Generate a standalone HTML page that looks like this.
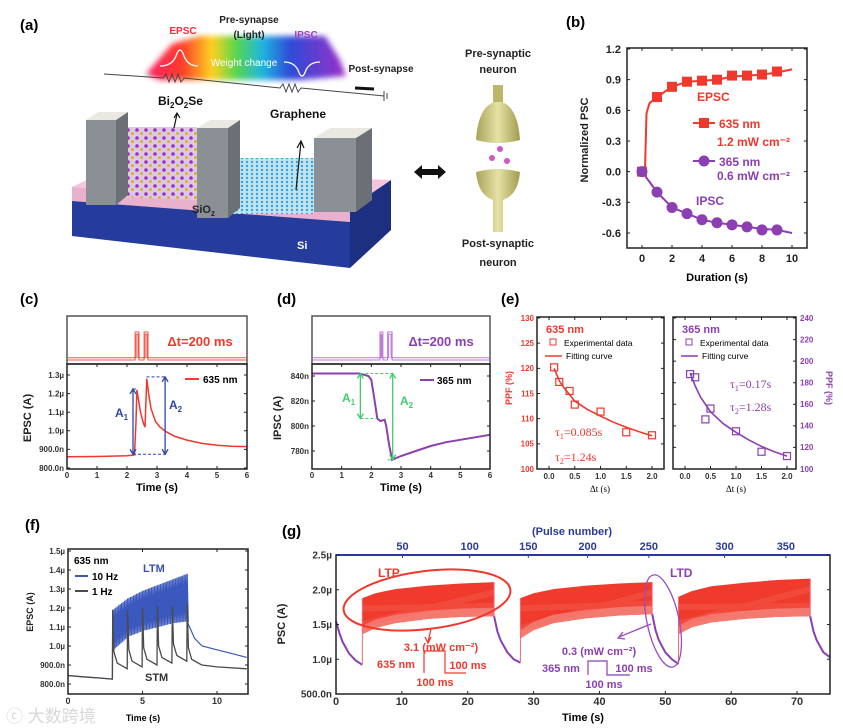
<!DOCTYPE html>
<html><head><meta charset="utf-8"><title>Bi2O2Se synapse figure</title>
<style>
html,body{margin:0;padding:0;background:#fff;}
svg{display:block;font-family:"Liberation Sans","Noto Sans CJK SC",sans-serif;}
.b{font-weight:bold;}
</style></head>
<body>
<svg id="fig" xmlns="http://www.w3.org/2000/svg" width="843" height="728" viewBox="0 0 843 728">
<defs>
  <linearGradient id="rainbow" x1="0" x2="1" y1="0" y2="0">
    <stop offset="0" stop-color="#ff1f6a"/><stop offset="0.18" stop-color="#ff3b2a"/>
    <stop offset="0.33" stop-color="#ffd21f"/><stop offset="0.45" stop-color="#57d64a"/>
    <stop offset="0.58" stop-color="#1fb6e0"/><stop offset="0.72" stop-color="#2e4bd8"/>
    <stop offset="1" stop-color="#9b2fc8"/>
  </linearGradient>
  <filter id="blur"><feGaussianBlur stdDeviation="3"/></filter>
  <linearGradient id="olive" x1="0" x2="1"><stop offset="0" stop-color="#a9a35a"/><stop offset="0.5" stop-color="#e6e2a4"/><stop offset="1" stop-color="#a29b50"/></linearGradient>
  <pattern id="lattice" width="9" height="8" patternUnits="userSpaceOnUse">
    <rect width="9" height="8" fill="#d9c9e6"/>
    <circle cx="2" cy="2" r="1.8" fill="#a12fb8"/><circle cx="6.5" cy="5.5" r="1.5" fill="#e0b21a"/>
  </pattern>
  <pattern id="graphene" width="5" height="4" patternUnits="userSpaceOnUse">
    <rect width="5" height="4" fill="#bfe4f2"/><circle cx="2" cy="2" r="1.2" fill="#3aa3d8"/>
  </pattern>
</defs>

<!-- Panel (a) -->
<g>
  <text x="20" y="30" class="b" font-size="15">(a)</text>
  <polygon points="146,74 172,44 200,36 325,36 340,60 346,76 300,80 160,80" fill="url(#rainbow)" filter="url(#blur)"/>
  <path d="M160,66 Q172,66 176,56 Q180,44 184,56 Q188,66 198,66" fill="none" stroke="#fff" stroke-width="1.3"/>
  <path d="M284,62 Q294,62 298,70 Q302,82 306,70 Q310,62 320,62" fill="none" stroke="#fff" stroke-width="1.3"/>
  <text x="183" y="34" class="b" font-size="10" fill="#ff2b3a" text-anchor="middle">EPSC</text>
  <text x="249" y="23" class="b" font-size="10" fill="#222" text-anchor="middle">Pre-synapse</text>
  <text x="249" y="38" class="b" font-size="10" fill="#222" text-anchor="middle">(Light)</text>
  <text x="306" y="38" class="b" font-size="10" fill="#9b3fc4" text-anchor="middle">IPSC</text>
  <text x="244" y="66" font-size="10" fill="#fff" text-anchor="middle">Weight change</text>
  <text x="381" y="72" class="b" font-size="10" fill="#222" text-anchor="middle">Post-synapse</text>
  <path d="M104,74 L163,78 l3,-4 l3,8 l3,-8 l3,8 l3,-8 l3,8 l3,-4 L280,88 l3,-4 l3,8 l3,-8 l3,8 l3,-8 l3,8 l3,-4 L384,96 M384,91 L384,101 M387,93 L387,99" fill="none" stroke="#444" stroke-width="1"/>
  <path d="M355,88 L374,89" stroke="#111" stroke-width="3"/>
  <polygon points="72,187 108,170 391,180 350,208" fill="#f3c6dd"/>
  <polygon points="72,187 350,208 350,222 72,201" fill="#eab1cf"/>
  <polygon points="72,201 350,222 350,268 72,236" fill="#253c9c"/>
  <polygon points="350,208 391,180 391,230 350,268" fill="#1c2f80"/>
  <polygon points="124,127 197,127 197,200 124,197" fill="url(#lattice)"/>
  <polygon points="233,158 314,158 314,214 233,214" fill="url(#graphene)"/>
  <polygon points="86,120 98,112 128,112 116,120" fill="#e9e9e2"/>
  <rect x="86" y="120" width="30" height="85" fill="#8b9096"/>
  <polygon points="116,120 128,112 128,195 116,205" fill="#6b7076"/>
  <polygon points="197,128 210,120 240,120 228,128" fill="#e9e9e2"/>
  <rect x="197" y="128" width="31" height="90" fill="#8b9096"/>
  <polygon points="228,128 240,120 240,208 228,218" fill="#6b7076"/>
  <polygon points="314,138 330,128 372,128 356,138" fill="#e9e9e2"/>
  <rect x="314" y="138" width="42" height="74" fill="#8b9096"/>
  <polygon points="356,138 372,128 372,200 356,212" fill="#6b7076"/>
  <path d="M174,128 L177,114 M174,118 L177,113 L180,118" stroke="#111" fill="none" stroke-width="1.2"/>
  <path d="M296,190 L301,142 M297,148 L301,141 L304,148" stroke="#111" fill="none" stroke-width="1.2"/>
  <text x="158" y="105" class="b" font-size="12" fill="#111">Bi<tspan font-size="8" dy="3">2</tspan><tspan dy="-3">O</tspan><tspan font-size="8" dy="3">2</tspan><tspan dy="-3">Se</tspan></text>
  <text x="270" y="118" class="b" font-size="12" fill="#111">Graphene</text>
  <text x="192" y="213" class="b" font-size="11" fill="#222">SiO<tspan font-size="7" dy="3">2</tspan></text>
  <text x="297" y="249" class="b" font-size="11" fill="#fff">Si</text>
  <path d="M414,172 L422,165 L422,169 L438,169 L438,165 L446,172 L438,179 L438,175 L422,175 L422,179 Z" fill="#111"/>
  <text x="498" y="57" class="b" font-size="11" fill="#222" text-anchor="middle">Pre-synaptic</text>
  <text x="498" y="73" class="b" font-size="11" fill="#222" text-anchor="middle">neuron</text>
  <rect x="493" y="85" width="10" height="20" fill="#bdb66a"/>
  <path d="M476,140 Q478,108 494,102 L502,102 Q518,108 520,140 Q498,146 476,140Z" fill="url(#olive)"/>
  <circle cx="500" cy="149" r="3" fill="#d455c4"/>
  <circle cx="492" cy="158" r="3" fill="#d455c4"/>
  <circle cx="507" cy="161" r="3" fill="#d455c4"/>
  <path d="M476,172 Q498,166 520,172 Q518,195 503,200 L503,232 L493,232 L493,200 Q478,195 476,172Z" fill="url(#olive)"/>
  <text x="498" y="247" class="b" font-size="11" fill="#222" text-anchor="middle">Post-synaptic</text>
  <text x="498" y="266" class="b" font-size="11" fill="#222" text-anchor="middle">neuron</text>
</g>
<text x="6" y="722" font-size="17" fill="#d8d8d8">ⓒ 大数跨境</text>
</svg>

<script>
// ---------- data ----------
const bTimes=[0,1,2,3,4,5,6,7,8,9];
const bEPSC=[0,0.73,0.83,0.88,0.89,0.90,0.94,0.94,0.95,0.98];
const bIPSC=[0,-0.20,-0.35,-0.41,-0.47,-0.50,-0.52,-0.54,-0.57,-0.57];
const bEPSCfitT=[0,0.2,0.3,0.5,1,2,3,4,5,6,7,8,9,10];
const bEPSCfit=[0,0.02,0.57,0.67,0.73,0.83,0.88,0.89,0.90,0.93,0.94,0.95,0.97,1.0];
const bIPSCfitT=[0,0.5,1,2,3,4,5,6,7,8,9,10];
const bIPSCfit=[0,-0.10,-0.20,-0.35,-0.41,-0.47,-0.50,-0.52,-0.54,-0.56,-0.57,-0.60];
const bYTicks=[1.2,0.9,0.6,0.3,0,-0.3,-0.6];
const bYLabels=["1.2","0.9","0.6","0.3","0.0","-0.3","-0.6"];
const bXTicks=[0,2,4,6,8,10];

const cT=[0,1,2,2.25,2.3,2.33,2.38,2.45,2.55,2.6,2.63,2.66,2.72,2.8,2.95,3.1,3.3,3.6,4,4.5,5,5.5,6];
const cV=[0.860,0.862,0.866,0.870,1.05,1.22,1.17,1.10,1.04,1.02,1.15,1.28,1.20,1.12,1.05,1.02,0.995,0.970,0.950,0.932,0.922,0.917,0.915];
const cYTicks=[0.8,0.9,1.0,1.1,1.2,1.3];
const cYLabels=["800.0n","900.0n","1.0µ","1.1µ","1.2µ","1.3µ"];
const cPulseOn=[2.27,2.57], cPulseOff=[2.4,2.7];

const dT=[0,1,1.6,1.9,2.0,2.1,2.2,2.3,2.45,2.5,2.6,2.7,2.8,3,3.5,4,4.5,5,5.5,6];
const dV=[842,842,842,840,837,822,806,804,805,800,785,773,774,776,780,784,787,789,791,793];
const dYTicks=[780,800,820,840];
const dYLabels=["780n","800n","820n","840n"];
const dPulseOn=[2.29,2.55], dPulseOff=[2.39,2.7];
const xTicks6=[0,1,2,3,4,5,6];

const eDt=[0.1,0.2,0.4,0.5,1.0,1.5,2.0];
const eRed=[120.2,117.3,115.5,112.8,111.4,107.3,106.7];
const ePurple=[188,185,146,156,135,116,112];
const eFitT=[0.1,0.2,0.3,0.5,0.75,1,1.25,1.5,1.75,2];
const eRedFit=[120,117.5,116,113.5,111.8,110.5,109.3,108.3,107.4,106.6];
const ePurpleFit=[189,177,167,153,142,134,127,121,116,112];
const eLYTicks=[100,105,110,115,120,125,130];
const eRYTicks=[100,120,140,160,180,200,220,240];
const eXTicks=[0,0.5,1,1.5,2];
const eXLabels=["0.0","0.5","1.0","1.5","2.0"];

const fBaseT=[0,1,2,2.98], fBaseV=[0.845,0.838,0.832,0.826];
const fEnvT=[3,4,5,6,7,8];
const fUpper=[1.19,1.25,1.29,1.32,1.35,1.38];
const fLower=[0.98,1.05,1.08,1.10,1.12,1.13];
const fDecayT=[8.05,8.5,9,10,11,12], fDecayV=[1.12,1.04,1.0,0.98,0.96,0.94];
const fGrayPeakT=[3,4,5,6,7,8];
const fGrayPeak=[1.19,1.19,1.20,1.21,1.21,1.22];
const fGrayTrough=[0.88,0.89,0.90,0.91,0.92,0.90];
const fGrayTailT=[10,12], fGrayTail=[0.89,0.88];
const fYTicks=[0.8,0.9,1.0,1.1,1.2,1.3,1.4,1.5];
const fYLabels=["800.0n","900.0n","1.0µ","1.1µ","1.2µ","1.3µ","1.4µ","1.5µ"];
const fXTicks=[0,5,10];

const gBandStart=[4,28,52], gBandEnd=[24,48,72];
const gEnvRelT=[0,2,5,10,15,20];
const gTop=[[1.88,1.95,2.01,2.06,2.09,2.11],[1.88,1.95,2.01,2.06,2.09,2.11],[1.90,1.98,2.05,2.10,2.14,2.16]];
const gBottom=[[1.36,1.45,1.52,1.58,1.61,1.62],[1.30,1.42,1.52,1.59,1.63,1.65],[1.36,1.46,1.53,1.58,1.61,1.62]];
const gDecayStart=[0,24,48,72];
const gDecayRelT=[[0,0.5,1,2,3,4],[0,0.5,1,2,3,4],[0,0.5,1,2,3,4],[0,0.5,1,2,3]];
const gDecayV=[[1.55,1.38,1.25,1.08,0.98,0.92],[1.62,1.40,1.27,1.10,1.0,0.95],[1.65,1.42,1.28,1.10,1.0,0.93],[1.62,1.40,1.27,1.10,1.03]];
const gYTicks=[0.5,1.0,1.5,2.0,2.5];
const gYLabels=["500.0n","1.0µ","1.5µ","2.0µ","2.5µ"];
const gXTicks=[0,10,20,30,40,50,60,70];
const gPulseLabels=[50,100,150,200,250,300,350];
const gPulseAtTime=[10.1,20.3,29.2,38.2,47.5,59,68.3];

// ---------- helpers ----------
const NS='http://www.w3.org/2000/svg';
const svg=document.getElementById('fig');
function mk(tag,attrs,parent){const e=document.createElementNS(NS,tag);for(const k in attrs)e.setAttribute(k,attrs[k]);(parent||svg).appendChild(e);return e;}
function txt(x,y,s,attrs,parent){const e=mk('text',Object.assign({x:x,y:y},attrs),parent);e.textContent=s;return e;}
function lin(d0,d1,r0,r1){return v=>r0+(v-d0)/(d1-d0)*(r1-r0);}
function interp(xs,ys,x){if(x<=xs[0])return ys[0];for(let i=1;i<xs.length;i++){if(x<=xs[i]){const f=(x-xs[i-1])/(xs[i]-xs[i-1]);return ys[i-1]+f*(ys[i]-ys[i-1]);}}return ys[ys.length-1];}
function pathFrom(xs,ys,fx,fy){return xs.map((t,i)=>(i?'L':'M')+fx(t).toFixed(1)+','+fy(ys[i]).toFixed(1)).join('');}
function group(name){const g=mk('g',{});return g;}
function box(g,x0,y0,x1,y1,name,color){const r=mk('rect',{x:x0,y:y0,width:x1-x0,height:y1-y0,fill:'none',stroke:color||'#222','stroke-width':1.5},g);return r;}
function yAxis(g,vals,labels,fy,xL,xR,lx,anchor,color,size,prefix){
  vals.forEach((v,i)=>{
    const t=mk('path',{d:`M${xL},${fy(v)}h3M${xR},${fy(v)}h-3`,stroke:'#222','stroke-width':1},g);
    
    
    const l=txt(lx,fy(v)+size*0.35,labels[i],{'font-size':size,'text-anchor':anchor,fill:color,'font-weight':'bold'},g);
    
    
  });
}
function xAxis(g,vals,labels,fx,yB,yT,ly,color,size,prefix){
  vals.forEach((v,i)=>{
    const t=mk('path',{d:`M${fx(v)},${yB}v-3`+(yT!==null?`M${fx(v)},${yT}v3`:''),stroke:'#222','stroke-width':1},g);
    
    
    const l=txt(fx(v),ly,labels[i],{'font-size':size,'text-anchor':'middle',fill:color,'font-weight':'bold'},g);
    
    
  });
}
function rotLabel(g,x,y,s,size,color,name,angle){
  const e=txt(x,y,s,{'font-size':size,'text-anchor':'middle','font-weight':'bold',fill:color,transform:`rotate(${angle||-90} ${x} ${y})`},g);
  
  
  return e;
}
function label(g,x,y,s,attrs,name){const e=txt(x,y,s,attrs,g);return e;}
function line(g,d,attrs,name){const e=mk('path',Object.assign({d:d,fill:'none'},attrs),g);return e;}

const RED='#f0382c', PUR='#8b3fb0', BLUE='#2f48a8', GREEN='#3fce6c';

// ---------- panel b ----------
(function(){
  const g=group('panel-b-chart');
  const fx=lin(0,10,642,792), fy=lin(-0.6,1.2,233,49);
  label(g,566,27,'(b)',{'font-size':15,'font-weight':'bold'},'panel-b-label');
  line(g,pathFrom(bEPSCfitT,bEPSCfit,fx,fy),{stroke:RED,'stroke-width':2},'epsc-fit-line');
  line(g,pathFrom(bIPSCfitT,bIPSCfit,fx,fy),{stroke:PUR,'stroke-width':2},'ipsc-fit-line');
  bTimes.forEach((t,i)=>{
    const s=mk('rect',{x:fx(t)-5,y:fy(bEPSC[i])-5,width:10,height:10,fill:RED},g);
    
    
    const c=mk('circle',{cx:fx(t),cy:fy(bIPSC[i]),r:5.5,fill:PUR},g);
    
    
  });
  box(g,627,48,807,248,'panel-b-plot-frame');
  yAxis(g,bYTicks,bYLabels,fy,627,807,621,'end','#222',11,'panel-b');
  xAxis(g,bXTicks,bXTicks.map(String),fx,248,48,262,'#222',11,'panel-b');
  rotLabel(g,588,140,'Normalized PSC',11,'#222','panel-b-y-axis-title');
  label(g,717,281,'Duration (s)',{'font-size':11,'font-weight':'bold','text-anchor':'middle'},'panel-b-x-axis-title');
  label(g,697,101,'EPSC',{'font-size':12,'font-weight':'bold',fill:RED},'epsc-series-label');
  line(g,'M693,123h22',{stroke:RED,'stroke-width':2},'legend-635-line');
  const lm=mk('rect',{x:699,y:118,width:10,height:10,fill:RED},g);
  
  
  label(g,719,128,'635 nm',{'font-size':12,'font-weight':'bold',fill:RED},'legend-635-text');
  label(g,717,146,'1.2 mW cm⁻²',{'font-size':12,'font-weight':'bold',fill:RED},'legend-635-power');
  line(g,'M693,161h22',{stroke:PUR,'stroke-width':2},'legend-365-line');
  const lc=mk('circle',{cx:704,cy:161,r:5.5,fill:PUR},g);
  
  
  label(g,719,166,'365 nm',{'font-size':12,'font-weight':'bold',fill:PUR},'legend-365-text');
  label(g,717,180,'0.6 mW cm⁻²',{'font-size':12,'font-weight':'bold',fill:PUR},'legend-365-power');
  label(g,696,205,'IPSC',{'font-size':12,'font-weight':'bold',fill:PUR},'ipsc-series-label');
})();

// pulse box helper for c,d
function pulseBox(g,fx,on,off,color,prefix){
  box(g,67+(prefix==='d'?245:0),316,247+(prefix==='d'?243:0),364,prefix+'-pulse-frame','#555');
  [0,2.2].forEach(dy=>{
    let d=`M${fx(0)},${360-dy}`;
    on.forEach((t,i)=>{d+=`L${fx(on[i])+(dy?1:0)},${360-dy}L${fx(on[i])+(dy?1:0)},${332+dy}L${fx(off[i])-(dy?1:0)},${332+dy}L${fx(off[i])-(dy?1:0)},${360-dy}`;});
    d+=`L${fx(6)},${360-dy}`;
    line(g,d,{stroke:color,'stroke-width':1,opacity:0.85},prefix+'-light-pulse-trace');
  });
}

// ---------- panel c ----------
(function(){
  const g=group('panel-c-chart');
  const fx=lin(0,6,67,247), fy=lin(0.8,1.3,468,375);
  label(g,20,304,'(c)',{'font-size':15,'font-weight':'bold'},'panel-c-label');
  pulseBox(g,fx,cPulseOn,cPulseOff,RED,'c');
  label(g,200,346,'Δt=200 ms',{'font-size':13,'font-weight':'bold',fill:RED,'text-anchor':'middle'},'c-interval-label');
  line(g,pathFrom(cT,cV,fx,fy),{stroke:RED,'stroke-width':1.5},'epsc-trace-635');
  const ax1=fx(2.2), ax2=fx(3.27);
  line(g,`M${ax1},${fy(0.874)}L${fx(3.27)},${fy(0.874)}M${ax1},${fy(1.225)}H${fx(2.36)}M${fx(2.65)},${fy(1.29)}H${ax2}`,{stroke:BLUE,'stroke-width':1,'stroke-dasharray':'3,2'},'amplitude-guide-lines');
  line(g,`M${ax1},${fy(0.874)}V${fy(1.225)}M${ax1-3},${fy(0.874)-5}L${ax1},${fy(0.874)}L${ax1+3},${fy(0.874)-5}M${ax1-3},${fy(1.225)+5}L${ax1},${fy(1.225)}L${ax1+3},${fy(1.225)+5}`,{stroke:BLUE,'stroke-width':1.3},'a1-arrow');
  line(g,`M${ax2},${fy(0.874)}V${fy(1.29)}M${ax2-3},${fy(0.874)-5}L${ax2},${fy(0.874)}L${ax2+3},${fy(0.874)-5}M${ax2-3},${fy(1.29)+5}L${ax2},${fy(1.29)}L${ax2+3},${fy(1.29)+5}`,{stroke:BLUE,'stroke-width':1.3},'a2-arrow');
  const a1=label(g,115,417,'A',{'font-size':12,'font-weight':'bold',fill:BLUE},'a1-label');
  const s1=mk('tspan',{'font-size':8,dy:3},a1); s1.textContent='1';
  const a2=label(g,169,409,'A',{'font-size':12,'font-weight':'bold',fill:BLUE},'a2-label');
  const s2=mk('tspan',{'font-size':8,dy:3},a2); s2.textContent='2';
  line(g,'M185,379h14',{stroke:RED,'stroke-width':2},'c-legend-line');
  label(g,203,383,'635 nm',{'font-size':10,'font-weight':'bold'},'c-legend-text');
  box(g,67,364,247,469,'panel-c-plot-frame');
  yAxis(g,cYTicks,cYLabels,fy,67,247,64,'end','#333',8,'panel-c');
  xAxis(g,xTicks6,xTicks6.map(String),fx,469,364,478,'#333',8,'panel-c');
  rotLabel(g,31,418,'EPSC (A)',11,'#222','panel-c-y-axis-title');
  label(g,157,491,'Time (s)',{'font-size':11,'font-weight':'bold','text-anchor':'middle'},'panel-c-x-axis-title');
})();

// ---------- panel d ----------
(function(){
  const g=group('panel-d-chart');
  const fx=lin(0,6,312,490), fy=lin(780,840,451,376);
  label(g,277,304,'(d)',{'font-size':15,'font-weight':'bold'},'panel-d-label');
  pulseBox(g,fx,dPulseOn,dPulseOff,'#b060d0','d');
  label(g,441,346,'Δt=200 ms',{'font-size':13,'font-weight':'bold',fill:PUR,'text-anchor':'middle'},'d-interval-label');
  line(g,pathFrom(dT,dV,fx,fy),{stroke:PUR,'stroke-width':2},'ipsc-trace-365');
  const ax1=fx(1.63), ax2=fx(2.72);
  line(g,`M${ax1},${fy(842)}H${ax2}M${ax1},${fy(806)}H${fx(2.2)}M${fx(2.55)},${fy(773)}H${ax2}`,{stroke:GREEN,'stroke-width':1,'stroke-dasharray':'3,2'},'d-amplitude-guides');
  line(g,`M${ax1},${fy(842)}V${fy(806)}M${ax1-3},${fy(842)+5}L${ax1},${fy(842)}L${ax1+3},${fy(842)+5}M${ax1-3},${fy(806)-5}L${ax1},${fy(806)}L${ax1+3},${fy(806)-5}`,{stroke:GREEN,'stroke-width':1.3},'d-a1-arrow');
  line(g,`M${ax2},${fy(842)}V${fy(773)}M${ax2-3},${fy(842)+5}L${ax2},${fy(842)}L${ax2+3},${fy(842)+5}M${ax2-3},${fy(773)-5}L${ax2},${fy(773)}L${ax2+3},${fy(773)-5}`,{stroke:GREEN,'stroke-width':1.3},'d-a2-arrow');
  const a1=label(g,342,402,'A',{'font-size':12,'font-weight':'bold',fill:GREEN},'d-a1-label');
  const s1=mk('tspan',{'font-size':8,dy:3},a1); s1.textContent='1';
  const a2=label(g,400,405,'A',{'font-size':12,'font-weight':'bold',fill:GREEN},'d-a2-label');
  const s2=mk('tspan',{'font-size':8,dy:3},a2); s2.textContent='2';
  line(g,'M420,380h14',{stroke:PUR,'stroke-width':2},'d-legend-line');
  label(g,437,384,'365 nm',{'font-size':10,'font-weight':'bold'},'d-legend-text');
  box(g,312,364,490,469,'panel-d-plot-frame');
  yAxis(g,dYTicks,dYLabels,fy,312,490,309,'end','#333',8,'panel-d');
  xAxis(g,xTicks6,xTicks6.map(String),fx,469,364,478,'#333',8,'panel-d');
  rotLabel(g,281,418,'IPSC (A)',11,'#222','panel-d-y-axis-title');
  label(g,401,491,'Time (s)',{'font-size':11,'font-weight':'bold','text-anchor':'middle'},'panel-d-x-axis-title');
})();

// ---------- panel e ----------
(function(){
  const g=group('panel-e-chart');
  label(g,501,304,'(e)',{'font-size':15,'font-weight':'bold'},'panel-e-label');
  const fxL=lin(0,2,549,652), fyL=lin(100,130,469,318);
  const fxR=lin(0,2,685,787), fyR=lin(100,240,469,318);
  line(g,pathFrom(eFitT,eRedFit,fxL,fyL),{stroke:RED,'stroke-width':1.6},'ppf-635-fit-curve');
  line(g,pathFrom(eFitT,ePurpleFit,fxR,fyR),{stroke:PUR,'stroke-width':1.6},'ppf-365-fit-curve');
  eDt.forEach((t,i)=>{
    const a=mk('rect',{x:fxL(t)-3.5,y:fyL(eRed[i])-3.5,width:7,height:7,fill:'none',stroke:RED,'stroke-width':1.2},g);
    
    
    const b=mk('rect',{x:fxR(t)-3.5,y:fyR(ePurple[i])-3.5,width:7,height:7,fill:'none',stroke:PUR,'stroke-width':1.2},g);
    
    
  });
  box(g,537,317,664,469,'panel-e-left-frame');
  box(g,673,317,796,469,'panel-e-right-frame');
  yAxis(g,eLYTicks,eLYTicks.map(String),fyL,537,664,534,'end',RED,8,'panel-e-left');
  yAxis(g,eRYTicks,eRYTicks.map(String),fyR,673,796,800,'start',PUR,8,'panel-e-right');
  xAxis(g,eXTicks,eXLabels,fxL,469,317,479,'#333',8,'panel-e-left');
  xAxis(g,eXTicks,eXLabels,fxR,469,317,479,'#333',8,'panel-e-right');
  rotLabel(g,512,388,'PPF (%)',9,RED,'panel-e-left-y-axis-title');
  rotLabel(g,826,388,'PPF (%)',9,PUR,'panel-e-right-y-axis-title',90);
  label(g,600,492,'Δt (s)',{'font-size':9,'font-family':'Liberation Serif, serif','text-anchor':'middle'},'panel-e-left-x-axis-title');
  label(g,736,492,'Δt (s)',{'font-size':9,'font-family':'Liberation Serif, serif','text-anchor':'middle'},'panel-e-right-x-axis-title');
  label(g,546,333,'635 nm',{'font-size':11,'font-weight':'bold',fill:RED},'panel-e-635-title');
  const lq=mk('rect',{x:550,y:339,width:6,height:6,fill:'none',stroke:RED},g);
  
  
  label(g,564,346,'Experimental data',{'font-size':8.5},'e-left-legend-data');
  line(g,'M545,356h17',{stroke:RED,'stroke-width':1.6},'e-left-legend-line');
  label(g,566,359,'Fitting curve',{'font-size':8.5},'e-left-legend-fit');
  label(g,682,333,'365 nm',{'font-size':11,'font-weight':'bold',fill:PUR},'panel-e-365-title');
  const rq=mk('rect',{x:686,y:339,width:6,height:6,fill:'none',stroke:PUR},g);
  
  
  label(g,700,346,'Experimental data',{'font-size':8.5},'e-right-legend-data');
  line(g,'M681,356h17',{stroke:PUR,'stroke-width':1.6},'e-right-legend-line');
  label(g,702,359,'Fitting curve',{'font-size':8.5},'e-right-legend-fit');
  const ser={'font-size':12,'font-family':'Liberation Serif, serif'};
  [[555,436,'0.085s',RED,'tau1-635'],[555,461,'1.24s',RED,'tau2-635'],[730,388,'0.17s',PUR,'tau1-365'],[730,411,'1.28s',PUR,'tau2-365']].forEach((r,i)=>{
    const e=label(g,r[0],r[1],'τ',Object.assign({fill:r[3]},ser),r[4]+'-label');
    const sb=mk('tspan',{'font-size':8,dy:3},e); sb.textContent=(i%2?'2':'1');
    const rest=mk('tspan',{dy:-3},e); rest.textContent='='+r[2];
  });
})();

// ---------- panel f ----------
(function(){
  const g=group('panel-f-chart');
  const fx=lin(0,10,68,217), fy=lin(0.8,1.5,684,551);
  label(g,25,530,'(f)',{'font-size':15,'font-weight':'bold'},'panel-f-label');
  // blue 10 Hz
  let bx=fBaseT.slice(), by=fBaseV.slice();
  for(let k=0;k<=50;k++){const t=3+k*0.1;bx.push(t);by.push(interp(fEnvT,fUpper,t));bx.push(t+0.07);by.push(interp(fEnvT,fLower,t));}
  fDecayT.forEach((t,i)=>{bx.push(t);by.push(fDecayV[i]);});
  // gray 1 Hz
  let gx=fBaseT.slice(), gy=fBaseV.slice();
  fGrayPeakT.forEach((t,i)=>{gx.push(t,t+0.08,t+0.3,t+0.97);gy.push(fGrayPeak[i],fGrayTrough[i]+0.09,fGrayTrough[i]+0.03,fGrayTrough[i]);});
  fGrayTailT.forEach((t,i)=>{gx.push(t);gy.push(fGrayTail[i]);});
  line(g,pathFrom(bx,by,fx,fy),{stroke:'#3a58bd','stroke-width':1.2},'epsc-10hz-trace');
  line(g,pathFrom(gx,gy,fx,fy),{stroke:'#4a4a48','stroke-width':1.3},'epsc-1hz-trace');
  box(g,68,549,248,694,'panel-f-plot-frame');
  yAxis(g,fYTicks,fYLabels,fy,68,248,65,'end','#333',8,'panel-f');
  xAxis(g,fXTicks,fXTicks.map(String),fx,694,549,704,'#333',9,'panel-f');
  rotLabel(g,33,612,'EPSC (A)',9,'#222','panel-f-y-axis-title');
  label(g,143,721,'Time (s)',{'font-size':9,'font-weight':'bold','text-anchor':'middle'},'panel-f-x-axis-title');
  label(g,74,564,'635 nm',{'font-size':10,'font-weight':'bold'},'f-wavelength-label');
  line(g,'M75,576h13',{stroke:'#3a58bd','stroke-width':2},'f-legend-10hz-line');
  label(g,92,580,'10 Hz',{'font-size':10,'font-weight':'bold'},'f-legend-10hz-text');
  line(g,'M75,591h13',{stroke:'#4a4a48','stroke-width':2},'f-legend-1hz-line');
  label(g,92,595,'1 Hz',{'font-size':10,'font-weight':'bold'},'f-legend-1hz-text');
  label(g,143,572,'LTM',{'font-size':11,'font-weight':'bold',fill:'#3a4fb0'},'ltm-label');
  label(g,145,681,'STM',{'font-size':11,'font-weight':'bold',fill:'#333'},'stm-label');
})();

// ---------- panel g ----------
(function(){
  const g=group('panel-g-chart');
  const fx=lin(0,75,336,830), fy=lin(0.5,2.5,694,555);
  label(g,282,536,'(g)',{'font-size':15,'font-weight':'bold'},'panel-g-label');
  gDecayStart.forEach((t0,j)=>{
    const xs=gDecayRelT[j].map(r=>t0+r);
    line(g,pathFrom(xs,gDecayV[j],fx,fy),{stroke:'#8a3fb0','stroke-width':2},'ltd-decay-segment');
  });
  gBandStart.forEach((s,j)=>{
    const e=gBandEnd[j];
    const xsT=gEnvRelT.map(r=>s+r);
    let d=pathFrom(xsT,gTop[j],fx,fy);
    const rev=xsT.slice().reverse(), rb=gBottom[j].slice().reverse();
    rev.forEach((t,i)=>{d+=`L${fx(t).toFixed(1)},${fy(rb[i]).toFixed(1)}`;});
    d+='Z';
    const band=mk('path',{d:d,fill:'#ef3a2c'},g);
    
    
    // lighter lower strip
    let d2=pathFrom(xsT,gBottom[j].map(v=>v+0.12),fx,fy);
    rev.forEach((t,i)=>{d2+=`L${fx(t).toFixed(1)},${fy(rb[i]).toFixed(1)}`;});
    const strip=mk('path',{d:d2+'Z',fill:'#f47a70'},g);
    
    
    line(g,`M${fx(s)},${fy(gTop[j][0]-0.15)}L${fx(e)},${fy(gBottom[j][5]+0.15)}M${fx(s)},${fy(gBottom[j][0]+0.15)}L${fx(e)},${fy(gTop[j][5]-0.15)}`,{stroke:'#f76a5e','stroke-width':6,opacity:0.35},'ltp-band-beat-pattern');
    line(g,`M${fx(s)},${fy(gDecayV[j][gDecayV[j].length-1])}V${fy(gTop[j][0])}M${fx(e)},${fy(gTop[j][5])}V${fy(gDecayV[j+1][0])}`,{stroke:'#f36a7a','stroke-width':1},'ltp-band-edges');
  });
  box(g,336,555,830,694,'panel-g-plot-frame');
  line(g,'M336,555H830',{stroke:'#2b3a9a','stroke-width':2},'pulse-number-axis-line');
  yAxis(g,gYTicks,gYLabels,fy,336,830,332,'end','#333',10,'panel-g');
  xAxis(g,gXTicks,gXTicks.map(String),fx,694,null,705,'#333',11,'panel-g');
  gPulseLabels.forEach((p,i)=>{
    const l=label(g,fx(gPulseAtTime[i]),550,String(p),{'font-size':11,'font-weight':'bold',fill:'#2b3a9a','text-anchor':'middle'},'pulse-number-tick-label');
    const t=mk('path',{d:`M${fx(gPulseAtTime[i])},555v3`,stroke:'#2b3a9a'},g);
    
    
  });
  label(g,572,535,'(Pulse number)',{'font-size':11,'font-weight':'bold',fill:'#2b3a9a','text-anchor':'middle'},'pulse-number-axis-title');
  rotLabel(g,285,624,'PSC (A)',11,'#222','panel-g-y-axis-title');
  label(g,583,721,'Time (s)',{'font-size':11,'font-weight':'bold','text-anchor':'middle'},'panel-g-x-axis-title');
  // annotations
  label(g,378,577,'LTP',{'font-size':12,'font-weight':'bold',fill:RED},'ltp-label');
  const el=mk('ellipse',{cx:427,cy:600,rx:84,ry:29,fill:'none',stroke:RED,'stroke-width':2,transform:'rotate(-7 427 600)'},g);
  
  
  line(g,'M431,629L428,642M425,637L428,643L431,637',{stroke:RED,'stroke-width':1.3},'ltp-arrow');
  label(g,441,651,'3.1 (mW cm⁻²)',{'font-size':11,'font-weight':'bold',fill:RED,'text-anchor':'middle'},'ltp-power-label');
  line(g,'M424,673V651H445V673H466',{stroke:RED,'stroke-width':1.2},'ltp-pulse-shape');
  label(g,396,668,'635 nm',{'font-size':11,'font-weight':'bold',fill:RED,'text-anchor':'middle'},'ltp-wavelength-label');
  label(g,468,669,'100 ms',{'font-size':11,'font-weight':'bold',fill:RED,'text-anchor':'middle'},'ltp-interval-label');
  label(g,435,686,'100 ms',{'font-size':11,'font-weight':'bold',fill:RED,'text-anchor':'middle'},'ltp-width-label');
  label(g,670,577,'LTD',{'font-size':12,'font-weight':'bold',fill:PUR},'ltd-label');
  const el2=mk('ellipse',{cx:663,cy:621,rx:16,ry:47,fill:'none',stroke:'#9a4cc0','stroke-width':1.3,transform:'rotate(-12 663 621)'},g);
  
  
  line(g,'M651,624L619,637M623,632L618,638L625,639',{stroke:'#9a4cc0','stroke-width':1.3},'ltd-arrow');
  label(g,599,655,'0.3 (mW cm⁻²)',{'font-size':11,'font-weight':'bold',fill:PUR,'text-anchor':'middle'},'ltd-power-label');
  line(g,'M588,675V661H607V675H630',{stroke:PUR,'stroke-width':1.2},'ltd-pulse-shape');
  label(g,561,672,'365 nm',{'font-size':11,'font-weight':'bold',fill:PUR,'text-anchor':'middle'},'ltd-wavelength-label');
  label(g,634,672,'100 ms',{'font-size':11,'font-weight':'bold',fill:PUR,'text-anchor':'middle'},'ltd-interval-label');
  label(g,604,688,'100 ms',{'font-size':11,'font-weight':'bold',fill:PUR,'text-anchor':'middle'},'ltd-width-label');
})();
</script>
</body></html>
